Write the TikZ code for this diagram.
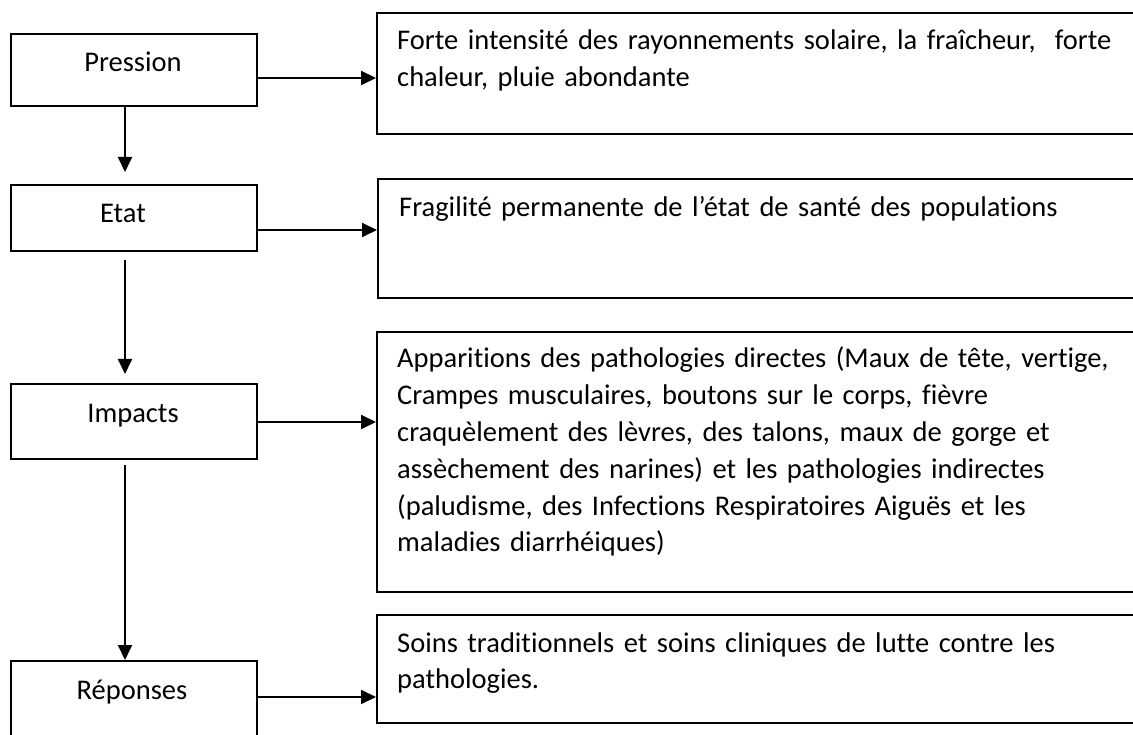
\documentclass[tikz,border=0pt]{standalone}
\usepackage{fontspec}
\setmainfont{Carlito}[Ligatures=NoCommon]
\usetikzlibrary{arrows.meta}
\begin{document}
\begin{tikzpicture}[x=1pt,y=-1pt,
  box/.style={draw, line width=1.8pt, inner sep=0pt, anchor=north west},
  arr/.style={line width=2pt, -{Triangle[length=15pt,width=14pt]}},
  lbl/.style={font=\fontsize{28.5}{36.8}\selectfont, anchor=base, inner sep=0pt},
  txt/.style={font=\fontsize{28.5}{36.8}\selectfont, anchor=base west, inner sep=0pt, text width=740pt, align=left}]
\clip (0,0) rectangle (1133,735);
\fill[white] (0,0) rectangle (1133,735);
% left boxes
\node[box, minimum width=246pt, minimum height=72pt] (p) at (10,33) {};
\node[box, minimum width=246pt, minimum height=66pt] (e) at (10,184) {};
\node[box, minimum width=246pt, minimum height=75pt] (i) at (10,383) {};
\node[box, minimum width=246pt, minimum height=90pt] (r) at (10,660) {};
\node[lbl] (pt) at (133,72) {Pression};
\node[lbl] (et) at (123,223) {Etat};
\node[lbl] (it) at (133,422) {Impacts};
\node[lbl] (rt) at (132,699) {Réponses};
% right boxes
\node[box, minimum width=769pt, minimum height=121pt] (r1) at (376,12) {};
\node[box, minimum width=769pt, minimum height=119pt] (r2) at (377,178) {};
\node[box, minimum width=769pt, minimum height=260pt] (r3) at (376,331) {};
\node[box, minimum width=769pt, minimum height=108pt] (r4) at (376,614) {};
\node[txt] (t1) at (397,50) {Forte intensité des rayonnements solaire, la fraîcheur,\ \ forte\\chaleur, pluie abondante};
\node[txt] (t2) at (399,217) {Fragilité permanente de l’état de santé des populations};
\node[txt] (t3) at (397,368) {Apparitions des pathologies directes (Maux de tête, vertige,\\Crampes musculaires, boutons sur le corps, fièvre\\craquèlement des lèvres, des talons, maux de gorge et\\assèchement des narines) et les pathologies indirectes\\(paludisme, des Infections Respiratoires Aiguës et les\\maladies diarrhéiques)};
\node[txt] (t4) at (397,652) {Soins traditionnels et soins cliniques de lutte contre les\\pathologies.};
% connectors
\coordinate (y1) at (0,78);
\coordinate (y2) at (0,230);
\coordinate (y3) at (0,422);
\coordinate (y4) at (0,697);
\coordinate (cx) at (125,0);
\draw[arr] (p.east |- y1) -- (r1.west |- y1);
\draw[arr] (e.east |- y2) -- (r2.west |- y2);
\draw[arr] (i.east |- y3) -- (r3.west |- y3);
\draw[arr] (r.east |- y4) -- (r4.west |- y4);
\draw[arr, shorten >=12pt] (p.south -| cx) -- (e.north -| cx);
\draw[arr, shorten <=8pt, shorten >=9pt] (e.south -| cx) -- (i.north -| cx);
\draw[arr, shorten <=5pt] (i.south -| cx) -- (r.north -| cx);
\end{tikzpicture}
\end{document}
